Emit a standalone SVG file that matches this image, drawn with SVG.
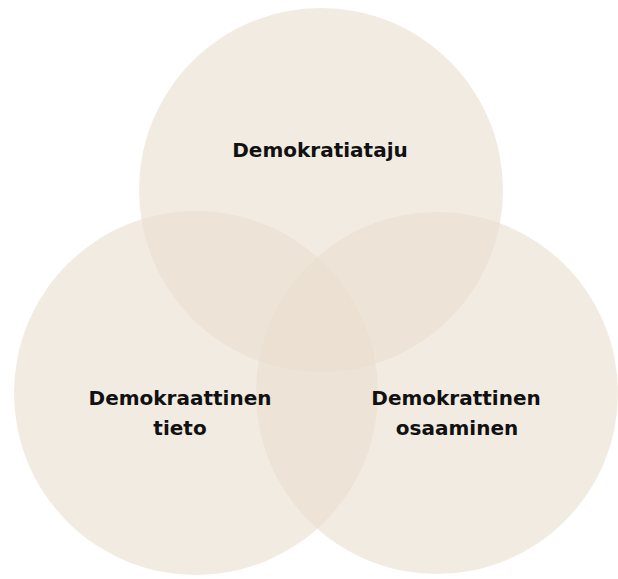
<svg xmlns="http://www.w3.org/2000/svg" width="618" height="579" viewBox="0 0 618 579">
  <style>
    .c { fill: #EADFCF; fill-opacity: 0.62; }
    .t { font-family: "DejaVu Sans", "Liberation Sans", sans-serif; font-weight: 700; font-size: 20px; fill: #111111; text-anchor: middle; }
  </style>
  <rect width="618" height="579" fill="#FFFFFF"/>
  <g id="node-demokratiataju">
    <circle class="c" cx="321" cy="190" r="182"/>
  </g>
  <g id="node-tieto">
    <circle class="c" cx="196" cy="393" r="182"/>
  </g>
  <g id="node-osaaminen">
    <circle class="c" cx="437" cy="393" r="181"/>
  </g>
  <g id="label-demokratiataju">
    <text class="t" x="320" y="157">Demokratiataju</text>
  </g>
  <g id="label-tieto">
    <text class="t" x="180" y="405">Demokraattinen</text>
    <text class="t" x="180" y="435">tieto</text>
  </g>
  <g id="label-osaaminen">
    <text class="t" x="456" y="405">Demokrattinen</text>
    <text class="t" x="457" y="435">osaaminen</text>
  </g>
  <g id="connectors"></g>
</svg>
